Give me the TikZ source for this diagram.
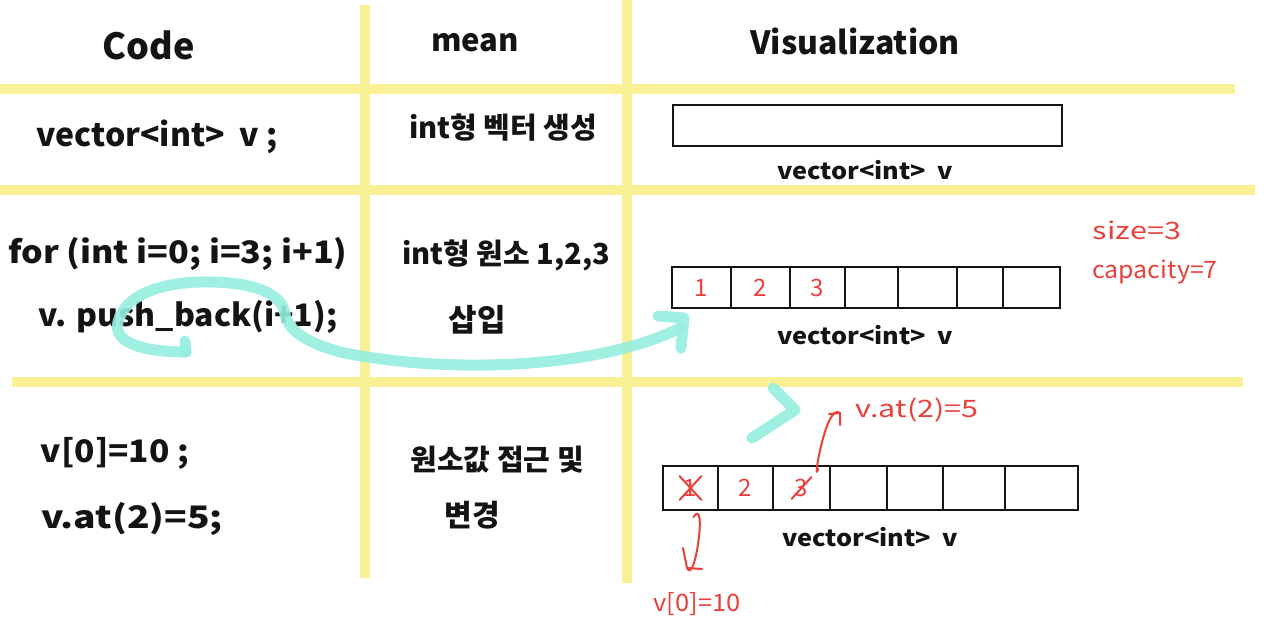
\documentclass[tikz,border=0pt]{standalone}
\usepackage{fontspec}
\usepackage{graphicx}
\setmainfont{Noto Sans CJK KR}
\usetikzlibrary{arrows.meta}
\definecolor{hlyellow}{RGB}{250,241,150}
\definecolor{hlcyan}{RGB}{150,238,224}
\definecolor{pen}{RGB}{20,20,20}
\definecolor{redpen}{RGB}{232,64,58}
\newcommand{\fsz}[1]{\fontsize{#1}{#1}\selectfont}
\tikzset{
  hl/.style={draw=hlyellow, line width=10pt},
  txt/.style={text=pen, inner sep=0pt, anchor=center},
  redtxt/.style={text=redpen, inner sep=0pt, anchor=center},
  cell/.style={draw=pen, line width=2.2pt, inner sep=0pt},
  lbl/.style={text=pen, inner sep=0pt, font=\fsz{23}\bfseries},
  redline/.style={draw=redpen, line width=2pt, line cap=round, line join=round},
  cyanpen/.style={draw=hlcyan, line width=11pt, line cap=round, line join=round, opacity=0.9}
}
\begin{document}
\begin{tikzpicture}[x=1pt,y=-1pt]
\useasboundingbox (0,0) rectangle (1280,638);
\fill[white] (0,0) rectangle (1280,638);
% table lines
\draw[hl] (0,89) -- (1235,89);
\draw[hl] (0,190) -- (1255,190);
\draw[hl] (12,382) -- (1243,382);
\draw[hl] (365,5) -- (365,578);
\draw[hl] (627,0) -- (627,583);
% headers
\node[txt, font=\fsz{36}\bfseries] (hcode) at (149,45) {Code};
\node[txt, font=\fsz{31}\bfseries] (hmean) at (475,43) {mean};
\node[txt, font=\fsz{32}\bfseries] (hvis) at (855,41) {Visualization};
% row 1
\node[txt, font=\fsz{32}\bfseries] (c1) at (157,137) {vector<int>\ \ v ;};
\node[txt, font=\fsz{29}\bfseries] (m1) at (503,128) {int형 벡터 생성};
\node[cell, minimum width=389pt, minimum height=41pt] (box1) at (867.5,125.5) {};
\node[lbl] (l1) at (865,170) {\scalebox{1.1}[1]{vector<int>\ \ v}};
% row 2
\node[txt, font=\fsz{31}\bfseries] (c2a) at (178,254) {\scalebox{1.1}[1]{for (int i=0;\ i=3;\ i+1)}};
\node[txt, font=\fsz{31}\bfseries] (c2b) at (188,317) {\scalebox{1.03}[1]{v. push\_back(i+1);}};
\node[txt, font=\fsz{29}\bfseries] (m2a) at (506,255) {int형 원소 1,2,3};
\node[txt, font=\fsz{31}\bfseries] (m2b) at (477,320) {삽입};
\foreach \i/\a/\b in {1/672/731,2/731/790,3/790/845,4/845/898,5/898/957,6/957/1003,7/1003/1060}{
  \node[cell, minimum width={\b-\a}, minimum height=41pt] (rtwo\i) at ({(\a+\b)/2},287.5) {};
}
\node[redtxt, font=\fsz{24}] (n21) at (rtwo1) {1};
\node[redtxt, font=\fsz{24}] (n22) at (rtwo2) {2};
\node[redtxt, font=\fsz{24}] (n23) at (rtwo3) {3};
\node[lbl] (l2) at (865,335) {\scalebox{1.1}[1]{vector<int>\ \ v}};
\node[redtxt, font=\fsz{24}] (size) at (1137,230) {\scalebox{1.28}[1]{size=3}};
\node[redtxt, font=\fsz{24}] (cap) at (1155,272) {\scalebox{1.04}[1]{capacity=7}};
% row 3
\node[txt, font=\fsz{31}\bfseries] (c3a) at (115,453) {\scalebox{1.08}[1]{v[0]=10 ;}};
\node[txt, font=\fsz{31}\bfseries] (c3b) at (132,519) {\scalebox{1.2}[1]{v.at(2)=5;}};
\node[txt, font=\fsz{29}\bfseries] (m3a) at (497,460) {원소값 접근 및};
\node[txt, font=\fsz{30}\bfseries] (m3b) at (472,515) {변경};
\foreach \i/\a/\b in {1/663/718,2/718/773,3/773/830,4/830/887,5/887/943,6/943/1005,7/1005/1078}{
  \node[cell, minimum width={\b-\a}, minimum height=44pt] (rthree\i) at ({(\a+\b)/2},488) {};
}
\node[redtxt, font=\fsz{24}] (n31) at (rthree1) {1};
\node[redtxt, font=\fsz{24}] (n32) at (rthree2) {2};
\node[redtxt, font=\fsz{24}] (n33) at (rthree3) {3};
\draw[redline] ([xshift=-11pt,yshift=-12pt]n31.center) -- ([xshift=11pt,yshift=12pt]n31.center)
  ([xshift=-11pt,yshift=12pt]n31.center) -- ([xshift=11pt,yshift=-12pt]n31.center);
\draw[redline] ([xshift=-10pt,yshift=-11pt]n33.center) -- ([xshift=10pt,yshift=11pt]n33.center);
\node[lbl] (l3) at (870,537) {\scalebox{1.1}[1]{vector<int>\ \ v}};
\node[redtxt, font=\fsz{24}] (at2) at (917,410) {\scalebox{1.27}[1]{v.at(2)=5}};
\node[redtxt, font=\fsz{24}] (v0) at (697,604) {\scalebox{1.06}[1]{v[0]=10}};
\coordinate (at2tip) at (840,413);
\coordinate (v0tip) at (687,568);
\draw[redline] (rthree3.north east) ++(-13pt,-4pt) .. controls +(-6pt,-20pt) and +(-14pt,12pt) .. (at2tip);
\draw[redline] (829,414) -- (at2tip) -- (840,425);
\draw[redline] (rthree1.south) ++(3pt,-6pt) .. controls +(14pt,22pt) and +(8pt,-18pt) .. (v0tip);
\draw[redline] (683,548) -- (v0tip) -- (702,569);
% cyan strokes
\coordinate (loopstart) at (186,352);
\coordinate (arrowend) at (684,318);
\draw[cyanpen] (185,341) -- (loopstart);
\draw[cyanpen] (loopstart) .. controls (150,352) and (112,345) .. (118,322)
  .. controls (125,295) and (160,283) .. (200,282)
  .. controls (250,281) and (282,292) .. (285,314)
  .. controls (288,330) and (305,342) .. (340,352)
  .. controls (450,375) and (600,368) .. (680,328);
\draw[cyanpen] (658,316) -- (arrowend) -- (681,348);
\draw[cyanpen] (773,388) -- (795,410) -- (752,438);
\end{tikzpicture}
\end{document}
